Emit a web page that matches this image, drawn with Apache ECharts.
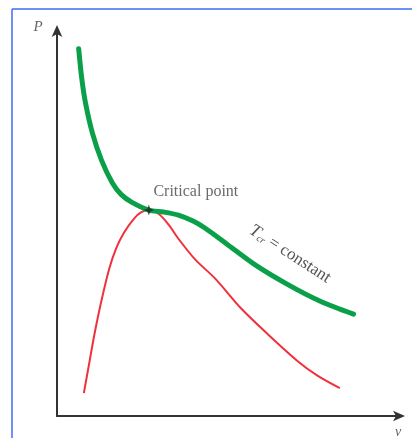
<!DOCTYPE html>
<html>
<head>
<meta charset="utf-8">
<script src="https://cdn.jsdelivr.net/npm/echarts@6/dist/echarts.min.js"></script>
<style>html,body{margin:0;padding:0;background:#fff}#c{width:412px;height:438px}</style>
</head>
<body>
<div id="c"></div>
<script>
// Isotherm T = Tcr (green) and saturation dome (red), arbitrary units v, P
const isothermV = [0.63,0.72,0.83,1.03,1.29,1.61,1.87,2.18,2.67,3.10,3.53,3.97,4.31,4.97,5.75,6.70,7.64,8.62];
const isothermP = [9.49,8.72,8.08,7.31,6.62,6.02,5.72,5.52,5.32,5.27,5.19,5.03,4.85,4.42,3.91,3.40,2.97,2.63];
const domeV = [0.78,0.95,1.09,1.29,1.52,1.72,1.95,2.24,2.44,2.67,2.96,3.25,3.53,4.02,4.60,5.34,6.12,6.98,7.56,8.22];
const domeP = [0.59,1.43,2.12,2.97,3.81,4.33,4.74,5.10,5.26,5.32,5.22,4.94,4.58,4.04,3.55,2.79,2.12,1.43,1.05,0.72];
const criticalPoint = [2.67, 5.32];
const axisNames = ['v', 'P'];

const pair = (xs, ys) => xs.map((x, i) => [x, ys[i]]);
const chart = echarts.init(document.getElementById('c'));
const axisCommon = {
  type: 'value', min: 0, max: 10,
  axisLine: { show: true, symbol: ['none', 'arrow'], symbolSize: [8, 12], symbolOffset: [0, 4], lineStyle: { color: '#333', width: 2 } },
  axisTick: { show: false }, axisLabel: { show: false }, splitLine: { show: false }
};
chart.setOption({
  animation: false,
  backgroundColor: '#fff',
  grid: { left: 57, right: 11, top: 29, bottom: 22 },
  xAxis: Object.assign({}, axisCommon),
  yAxis: Object.assign({}, axisCommon),
  graphic: [
    { type: 'line', shape: { x1: 12, y1: 9, x2: 412, y2: 9 }, style: { stroke: '#3d6cf5', lineWidth: 1.5 } },
    { type: 'line', shape: { x1: 12, y1: 9, x2: 12, y2: 438 }, style: { stroke: '#3d6cf5', lineWidth: 1.5 } },
    { type: 'text', x: 38, y: 27, style: { text: axisNames[1], font: 'italic 15px "Liberation Serif"', fill: '#666', align: 'center', verticalAlign: 'middle' } },
    { type: 'text', x: 398, y: 432, style: { text: axisNames[0], font: 'italic 14px "Liberation Serif"', fill: '#666', align: 'center', verticalAlign: 'middle' } },
    { type: 'text', x: 290, y: 254, rotation: -0.575,
      style: { text: '{t|T}{s|cr}{n| = constant}', align: 'center', verticalAlign: 'middle',
        rich: { t: { fontFamily: 'Liberation Serif', fontStyle: 'italic', fontSize: 18, fill: '#555', color: '#555' },
                s: { fontFamily: 'Liberation Serif', fontStyle: 'italic', fontSize: 10, fill: '#555', color: '#555', padding: [8, 0, 0, 0] },
                n: { fontFamily: 'Liberation Serif', fontSize: 17, fill: '#555', color: '#555' } } } }
  ],
  series: [
    { type: 'line', data: pair(domeV, domeP), smooth: 0.3, showSymbol: false, lineStyle: { color: '#f0303c', width: 2 }, z: 2 },
    { type: 'line', data: pair(isothermV, isothermP), smooth: 0.3, showSymbol: false, lineStyle: { color: '#0aa04a', width: 5, cap: 'round' }, z: 3 },
    { type: 'scatter', data: [criticalPoint], symbol: 'path://M0,-1L0.25,-0.25L1,0L0.25,0.25L0,1L-0.25,0.25L-1,0L-0.25,-0.25Z', symbolSize: 11,
      itemStyle: { color: '#222' }, z: 5,
      label: { show: true, formatter: 'Critical point', position: 'top', offset: [47, 0], fontFamily: 'Liberation Serif', fontSize: 16, color: '#444' } }
  ]
});
</script>
</body>
</html>
